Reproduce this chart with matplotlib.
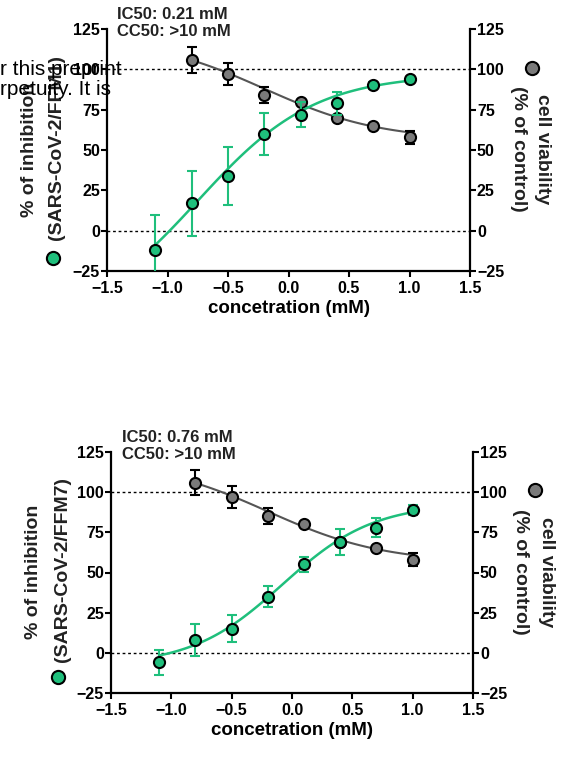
import numpy as np
import matplotlib
matplotlib.use('Agg')
import matplotlib.pyplot as plt

plt.rcParams['font.family'] = ['Liberation Sans', 'DejaVu Sans']

# log10 concentration (mM)
inhib_conc = [-1.1, -0.8, -0.5, -0.2, 0.1, 0.4, 0.7, 1.0]
viab_conc = [-0.8, -0.5, -0.2, 0.1, 0.4, 0.7, 1.0]

# FFM1 panel
ffm1_inhib = [-12, 17, 34, 60, 72, 79, 90, 94]
ffm1_inhib_err = [22, 20, 18, 13, 8, 7, 2, 1]
ffm1_viab = [106, 97, 84, 80, 70, 65, 58]
ffm1_viab_err = [8, 7, 5, 1, 1, 1, 4]
ffm1_inhib_fit = [-60, 97, -0.75, 0.9]   # bottom, top, logIC50, hill
ffm1_viab_fit = [56, 120, -0.2, -0.9]

# FFM7 panel
ffm7_inhib = [-6, 8, 15, 35, 55, 69, 78, 89]
ffm7_inhib_err = [7.5, 10, 8.5, 6.5, 4.5, 8, 6, 3]
ffm7_viab = [106, 97, 85, 80, 69, 65, 58]
ffm7_viab_err = [8, 7, 5, 1, 1, 1, 4]
ffm7_inhib_fit = [-8, 93, -0.08, 1.15]
ffm7_viab_fit = [56, 120, -0.2, -0.9]

GREEN = '#1fbf7c'
GRAY = '#7a7a7a'

W, H = 576, 757


def logistic(x, bottom, top, x50, hill):
    return bottom + (top - bottom) / (1 + 10 ** ((x50 - x) * hill))


def fx(px):
    return px / W


def fy(py):
    return 1 - py / H


def draw_panel(rect, inhib, inhib_err, inhib_fit, viab, viab_err, viab_fit,
               strain, ic50, lab):
    ax = fig.add_axes(rect)
    ax.set_xlim(-1.5, 1.5)
    ax.set_ylim(-25, 125)

    ax.axhline(0, color='black', lw=1, ls=(0, (2, 2)), zorder=1)
    ax.axhline(100, color='black', lw=1, ls=(0, (2, 2)), zorder=1)

    # viability (grey)
    xs = np.linspace(viab_conc[0], viab_conc[-1], 100)
    ax.plot(xs, logistic(xs, *viab_fit), color='#555555', lw=1.5, zorder=2)
    ax.errorbar(viab_conc, viab, yerr=viab_err, fmt='o', color='black',
                ecolor='black', elinewidth=1.5, capsize=3.5, capthick=1.5,
                markerfacecolor=GRAY, markeredgecolor='black',
                markersize=8, markeredgewidth=1.5, zorder=3)

    # inhibition (green)
    xs = np.linspace(inhib_conc[0], inhib_conc[-1], 100)
    ax.plot(xs, logistic(xs, *inhib_fit), color=GREEN, lw=1.8, zorder=4)
    ax.errorbar(inhib_conc, inhib, yerr=inhib_err, fmt='o', color=GREEN,
                ecolor=GREEN, elinewidth=1.5, capsize=3.5, capthick=1.5,
                markerfacecolor=GREEN, markeredgecolor='black',
                markersize=8, markeredgewidth=1.5, zorder=5)

    ax.spines['top'].set_visible(False)
    for s in ['left', 'right', 'bottom']:
        ax.spines[s].set_linewidth(1.6)
    ax.set_xticks(np.arange(-1.5, 1.51, 0.5))
    ax.set_yticks(np.arange(-25, 126, 25))
    ax.tick_params(axis='both', length=4, width=1.5, labelsize=11.5)
    ax.tick_params(axis='y', pad=1, right=True, labelright=True)
    ax.tick_params(axis='x', pad=3)
    for t in ax.get_xticklabels() + ax.get_yticklabels():
        t.set_fontweight('bold')
    ax.set_xlabel('concetration (mM)', fontsize=13.5, fontweight='bold',
                  labelpad=3)

    # y labels with legend circles
    kw = dict(ha='center', va='center', fontsize=14, fontweight='bold',
              color='#222222')
    fig.text(fx(lab['l1'][0]), fy(lab['l1'][1]), '% of inhibition',
             rotation=90, **kw)
    fig.text(fx(lab['l2'][0]), fy(lab['l2'][1]), '(SARS-CoV-2/%s)' % strain,
             rotation=90, **kw)
    fig.text(fx(lab['r1'][0]), fy(lab['r1'][1]), 'cell viability',
             rotation=270, **kw)
    fig.text(fx(lab['r2'][0]), fy(lab['r2'][1]), '(% of control)',
             rotation=270, **kw)
    fig.lines.append(plt.Line2D([fx(lab['gc'][0])], [fy(lab['gc'][1])],
                                transform=fig.transFigure, marker='o',
                                markersize=9.5, markerfacecolor=GREEN,
                                markeredgecolor='black', markeredgewidth=1.5))
    fig.lines.append(plt.Line2D([fx(lab['vc'][0])], [fy(lab['vc'][1])],
                                transform=fig.transFigure, marker='o',
                                markersize=9.5, markerfacecolor=GRAY,
                                markeredgecolor='black', markeredgewidth=1.5))

    fig.text(fx(lab['ic'][0]), fy(lab['ic'][1]),
             'IC50: %s mM\nCC50: >10 mM' % ic50, ha='left', va='center',
             fontsize=12, fontweight='bold', linespacing=1.1,
             color='#222222')
    return ax


fig = plt.figure(figsize=(W / 100, H / 100), dpi=100)

top_lab = {'l1': (29, 150), 'l2': (57, 148), 'gc': (53, 258),
           'r1': (543, 149), 'r2': (518, 149), 'vc': (532, 68),
           'ic': (117, 23)}
bot_lab = {'l1': (34, 572), 'l2': (62, 570), 'gc': (58, 677),
           'r1': (547, 572), 'r2': (520, 572), 'vc': (535, 490),
           'ic': (122, 446)}

draw_panel([fx(107), fy(271), (470 - 107) / W, (271 - 29) / H],
           ffm1_inhib, ffm1_inhib_err, ffm1_inhib_fit,
           ffm1_viab, ffm1_viab_err, ffm1_viab_fit, 'FFM1', '0.21', top_lab)
draw_panel([fx(111), fy(693), (473 - 111) / W, (693 - 452) / H],
           ffm7_inhib, ffm7_inhib_err, ffm7_inhib_fit,
           ffm7_viab, ffm7_viab_err, ffm7_viab_fit, 'FFM7', '0.76', bot_lab)

# preprint watermark fragments overlapping the top panel
fig.text(0, fy(75), 'r this preprint', ha='left', va='baseline', fontsize=15)
fig.text(0, fy(95), 'rpetuity. It is', ha='left', va='baseline', fontsize=15)

fig.savefig('out.png', dpi=100)
